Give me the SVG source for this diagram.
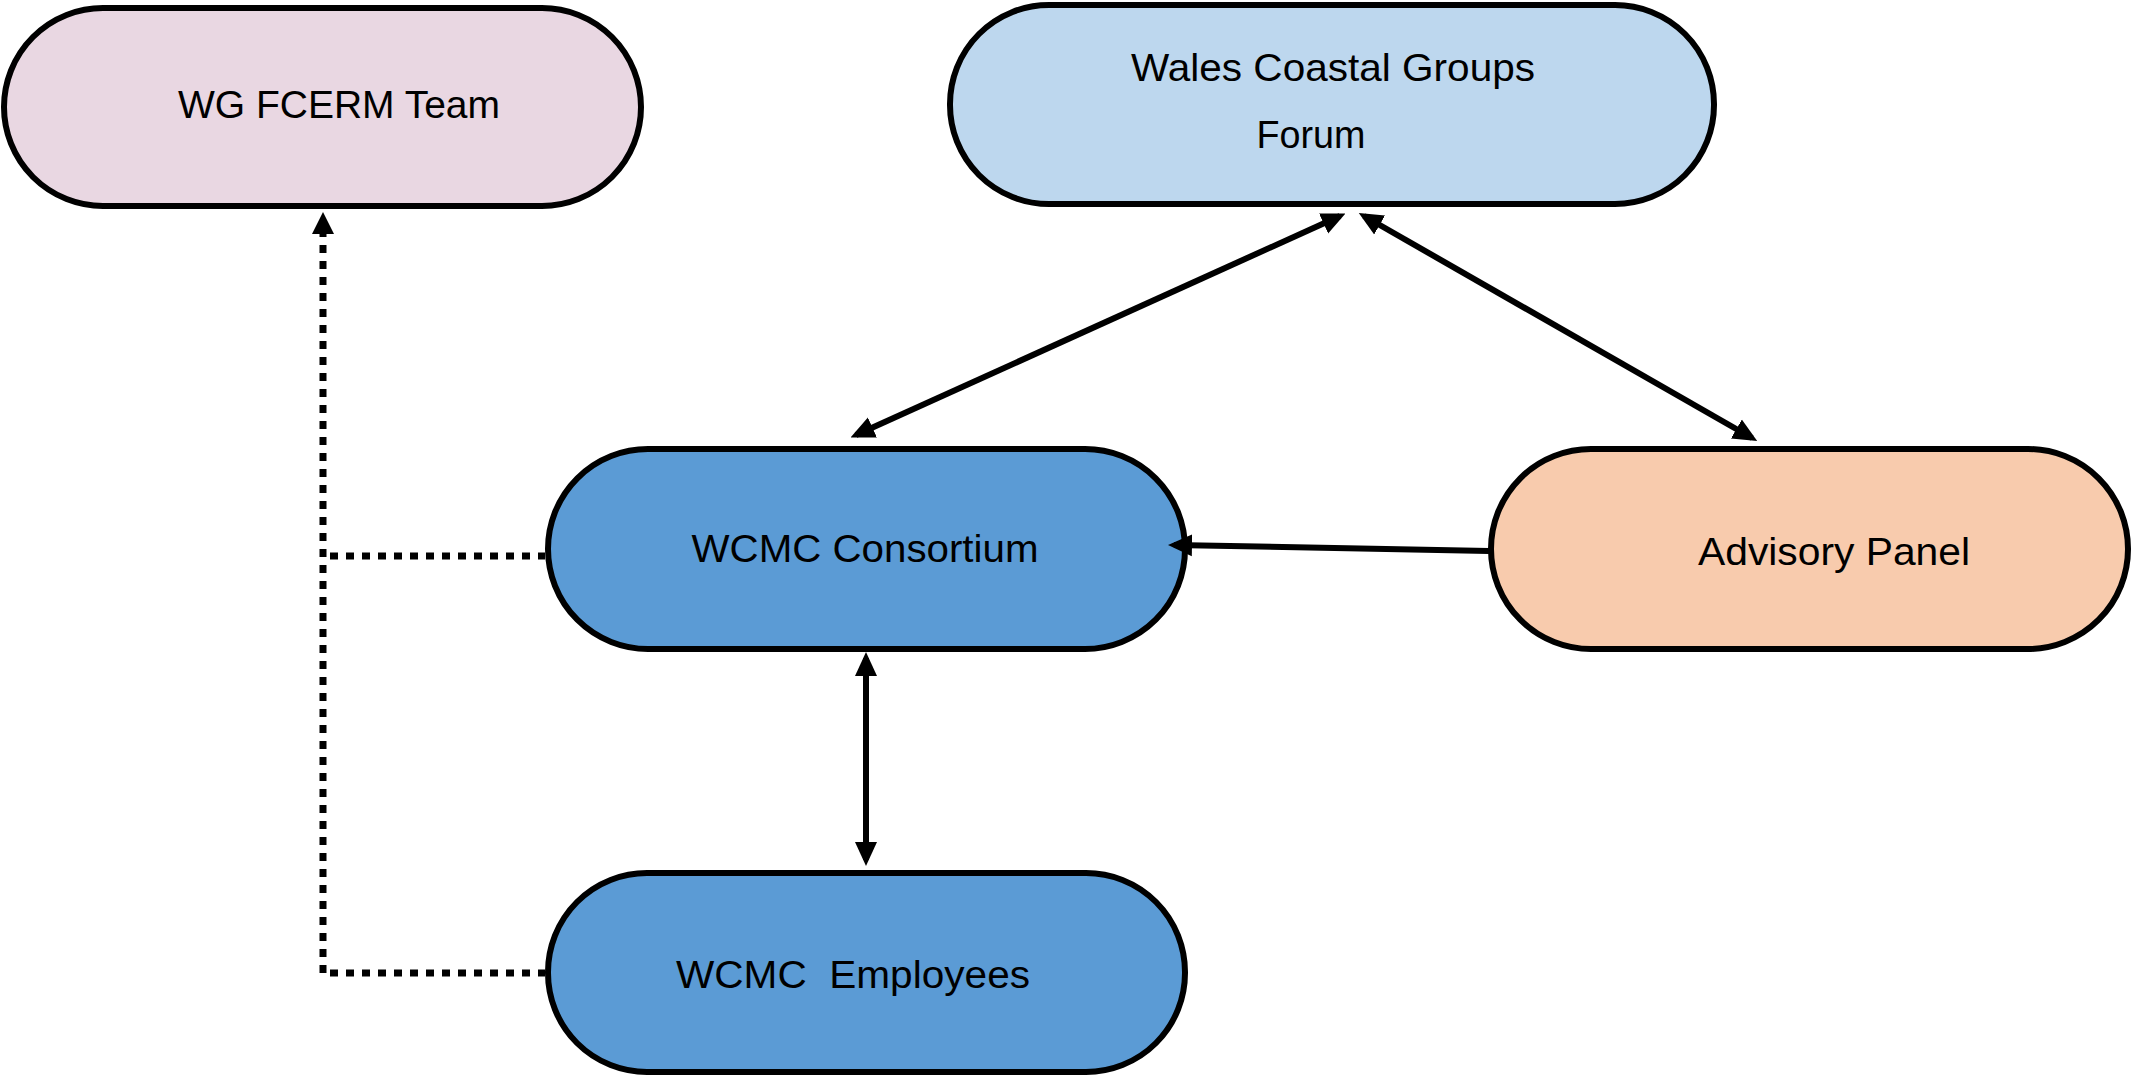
<svg xmlns="http://www.w3.org/2000/svg" width="2133" height="1075" viewBox="0 0 2133 1075">
<style>
.node rect{stroke:#000;stroke-width:6}
.node text{font-family:"Liberation Sans",Arial,sans-serif;font-size:39px;fill:#000;text-anchor:middle}
.solid{fill:none;stroke:#000;stroke-width:6}
.dot{fill:none;stroke:#000;stroke-width:7;stroke-dasharray:8 8}
</style>
<defs>
<marker id="ah" viewBox="0 0 24 24" markerUnits="userSpaceOnUse" markerWidth="24" markerHeight="24" refX="18" refY="12" orient="auto-start-reverse">
<path d="M0,1 L24,12 L0,23 Z" fill="#000"/>
</marker>
<marker id="ahd" viewBox="0 0 22 22" markerUnits="userSpaceOnUse" markerWidth="22" markerHeight="22" refX="14" refY="11" orient="auto">
<path d="M0,0 L22,11 L0,22 Z" fill="#000"/>
</marker>
</defs>
<g id="wg-fcerm-team" class="node">
<rect x="4" y="8" width="637" height="198" rx="99" ry="99" fill="#E9D7E2"/>
<text x="339" y="118" textLength="322" lengthAdjust="spacingAndGlyphs">WG FCERM Team</text>
</g>
<g id="wales-coastal-groups-forum" class="node">
<rect x="950" y="5" width="764" height="199" rx="99" ry="99" fill="#BDD7EE"/>
<text x="1333" y="81" textLength="404" lengthAdjust="spacingAndGlyphs">Wales Coastal Groups</text>
<text x="1311" y="148" textLength="109" lengthAdjust="spacingAndGlyphs">Forum</text>
</g>
<g id="wcmc-consortium" class="node">
<rect x="548" y="449" width="637" height="200" rx="100" ry="100" fill="#5B9BD5"/>
<text x="865" y="562" textLength="347" lengthAdjust="spacingAndGlyphs">WCMC Consortium</text>
</g>
<g id="advisory-panel" class="node">
<rect x="1491" y="449" width="637" height="200" rx="100" ry="100" fill="#F8CBAD"/>
<text x="1834" y="565" textLength="272" lengthAdjust="spacingAndGlyphs">Advisory Panel</text>
</g>
<g id="wcmc-employees" class="node">
<rect x="548" y="873" width="637" height="199" rx="99" ry="99" fill="#5B9BD5"/>
<text x="853" y="988" textLength="354" lengthAdjust="spacingAndGlyphs" xml:space="preserve">WCMC  Employees</text>
</g>
<g id="connectors">
<line class="solid" x1="1340" y1="216" x2="856" y2="435" marker-start="url(#ah)" marker-end="url(#ah)"/>
<line class="solid" x1="1364" y1="216" x2="1752" y2="438" marker-start="url(#ah)" marker-end="url(#ah)"/>
<line class="solid" x1="1489" y1="551" x2="1174" y2="545" marker-end="url(#ah)"/>
<line class="solid" x1="866" y1="658" x2="866" y2="860" marker-start="url(#ah)" marker-end="url(#ah)"/>
<path class="dot" d="M323,973 L323,220" marker-end="url(#ahd)"/>
<path class="dot" d="M330,556 L545,556"/>
<path class="dot" d="M330,973 L545,973"/>
</g>
</svg>
